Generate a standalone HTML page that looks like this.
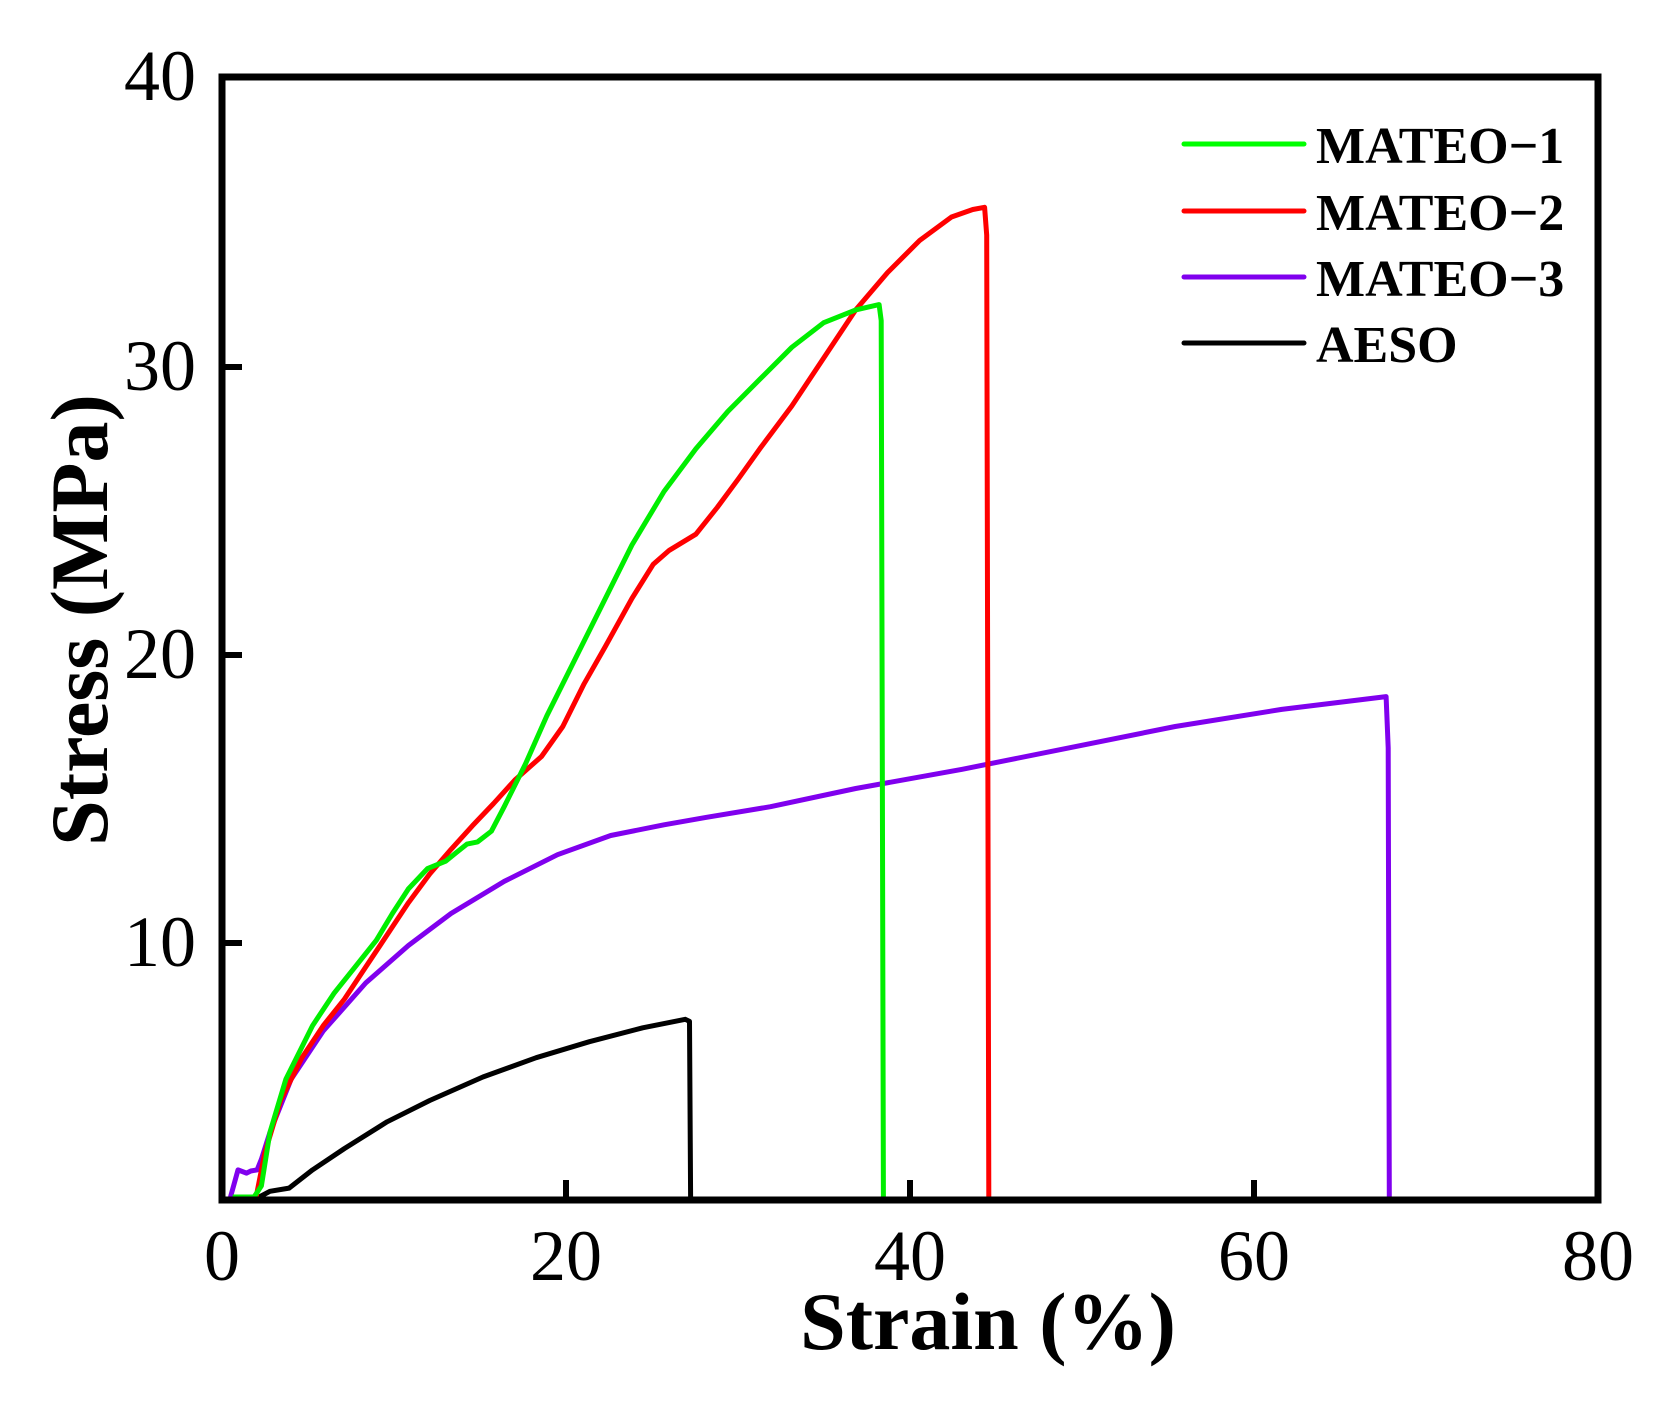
<!DOCTYPE html>
<html><head><meta charset="utf-8"><style>
body{margin:0;background:#fff}
</style></head><body>
<svg id="s" width="1675" height="1397" viewBox="0 0 1675 1397" xmlns="http://www.w3.org/2000/svg" font-family="'Liberation Serif', 'Times New Roman', serif">
<rect width="1675" height="1397" fill="#fff"/>
<g id="curves" fill="none" stroke-width="5" stroke-linejoin="round"></g>
<rect x="222" y="77" width="1376" height="1123" fill="none" stroke="#000" stroke-width="7"/>
<g stroke="#000" stroke-width="6">
<line x1="222" y1="367" x2="242" y2="367"/><line x1="222" y1="655" x2="242" y2="655"/><line x1="222" y1="943" x2="242" y2="943"/>
<line x1="566" y1="1200" x2="566" y2="1180"/><line x1="910" y1="1200" x2="910" y2="1180"/><line x1="1254" y1="1200" x2="1254" y2="1180"/>
</g>
<g font-size="72" text-anchor="end" font-family="'Liberation Serif', serif">
<text x="196" y="100">40</text><text x="196" y="390">30</text><text x="196" y="678">20</text><text x="196" y="966">10</text>
</g>
<g font-size="72" text-anchor="middle" font-family="'Liberation Serif', serif">
<text x="222" y="1280">0</text><text x="566" y="1280">20</text><text x="910" y="1280">40</text><text x="1254" y="1280">60</text><text x="1598" y="1280">80</text>
</g>
<text x="988" y="1349" font-size="82" font-weight="bold" text-anchor="middle" font-family="'Liberation Serif', serif">Strain (%)</text>
<text transform="translate(107,620) rotate(-90)" font-size="82" font-weight="bold" text-anchor="middle" font-family="'Liberation Serif', serif">Stress (MPa)</text>
<g stroke-width="5" stroke-linecap="round">
<line x1="1184" y1="144" x2="1304" y2="144" stroke="#00ff00"/>
<line x1="1184" y1="211" x2="1304" y2="211" stroke="#ff0000"/>
<line x1="1184" y1="277" x2="1304" y2="277" stroke="#8000ee"/>
<line x1="1184" y1="343" x2="1304" y2="343" stroke="#000"/>
</g>
<g font-size="52" font-weight="bold" font-family="'Liberation Serif', serif">
<text x="1316" y="163">MATEO−1</text><text x="1316" y="230">MATEO−2</text><text x="1316" y="296">MATEO−3</text><text x="1316" y="362">AESO</text>
</g>
</svg>
<script>
function mp(p){var dx=(p[0]-205)/16.15, dy=40-(p[1]-72)/26.93;
var y=77+(40-dy)*28.77; if(y>1197)y=1197; return (222+dx*17.2).toFixed(1)+","+y.toFixed(1);}
var S={
"#00ee00":[[215,1124],[235,1124],[242,1110],[250,1060],[265,1010],[290,960],[310,930],[330,905],[350,880],[365,855],[380,832],[398,813],[415,806],[425,798],[435,790],[445,788],[458,778],[470,755],[490,715],[510,670],[530,630],[560,570],[590,510],[620,460],[650,420],[680,385],[710,355],[740,325],[770,302],[800,290],[822,285],[824,300],[826,1124]],
"#ff0000":[[237,1124],[245,1080],[260,1030],[280,990],[300,960],[320,935],[340,905],[360,875],[380,845],[400,818],[420,795],[440,773],[460,752],[480,730],[505,708],[525,680],[545,640],[565,605],[590,560],[610,528],[625,515],[650,500],[670,475],[690,448],[710,420],[740,380],[770,335],[800,290],[830,255],[860,225],[890,203],[910,196],[921,194],[923,220],[925,1124]],
"#8000ee":[[213,1122],[220,1095],[228,1098],[232,1096],[238,1095],[242,1085],[250,1060],[270,1010],[300,965],[340,920],[380,885],[420,855],[470,825],[520,800],[570,782],[620,772],[660,765],[720,755],[800,738],[900,720],[1000,700],[1100,680],[1200,664],[1298,652],[1300,700],[1301,1124]],
"#000000":[[215,1124],[240,1124],[250,1115],[268,1112],[290,1095],[320,1075],[360,1050],[400,1030],[450,1008],[500,990],[550,975],[600,962],[640,954],[644,956],[645,1124]]};
var g=document.getElementById("curves"),h="";
["#000000","#8000ee","#ff0000","#00ee00"].forEach(function(c){h+='<polyline stroke="'+c+'" points="'+S[c].map(mp).join(" ")+'"/>';});
g.innerHTML=h;
</script>
</body></html>
